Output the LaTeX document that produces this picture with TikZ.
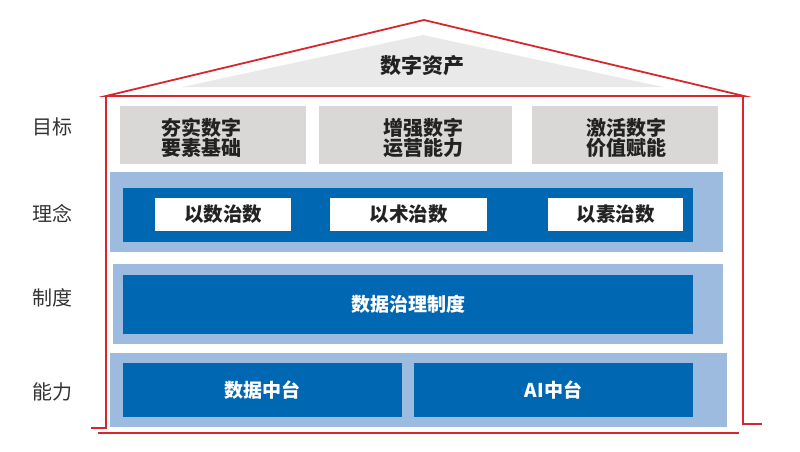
\documentclass[tikz,border=0pt]{standalone}
\usepackage{fontspec}
\setmainfont{Noto Sans CJK SC}
\begin{document}
\begin{tikzpicture}[x=1pt,y=-1pt,
  redline/.style={draw=roofred,line width=1.8pt},
  goalbox/.style={fill=goalgray,inner sep=0pt},
  goaltext/.style={inner sep=0pt,align=center,font=\bfseries\fontsize{20}{20.5}\selectfont,text=txtdark},
  lightband/.style={fill=lightblue,inner sep=0pt},
  darkband/.style={fill=darkblue,inner sep=0pt,text=white,font=\bfseries\fontsize{19}{22}\selectfont},
  whitebox/.style={fill=white,inner sep=0pt,text=txtdark,font=\bfseries\fontsize{19.5}{22}\selectfont},
  sidelabel/.style={text=txtlabel,font=\fontsize{20}{22}\selectfont}]
\definecolor{roofred}{HTML}{D8262E}
\definecolor{goalgray}{HTML}{D9D8D6}
\definecolor{roofgray}{HTML}{E9E9EA}
\definecolor{lightblue}{HTML}{9DBBDE}
\definecolor{darkblue}{HTML}{0067B2}
\definecolor{txtdark}{HTML}{222222}
\definecolor{txtlabel}{HTML}{333333}
\useasboundingbox (0,0) rectangle (800,451);
% roof
\fill[roofgray] (182,87) -- (423,35) -- (663,87) -- cycle;
\node[font=\bfseries\fontsize{21}{24}\selectfont,text=txtdark] (roof) at (422,66) {数字资产};
\coordinate (rl) at (106,96);
\coordinate (ra) at (424,20);
\coordinate (rr) at (744,96);
\draw[redline,line join=miter] (rl) -- (ra) -- (rr) -- cycle;
% walls
\coordinate (lb) at (106,428);
\coordinate (ls) at (91,428);
\coordinate (rb) at (743,424);
\coordinate (rs) at (762,424);
\coordinate (bl) at (98,433);
\coordinate (br) at (739,433);
\draw[redline] (rl) -- (lb) -- (ls);
\draw[redline] (743,96) -- (rb) -- (rs);
\draw[redline] (bl) -- (br);
% goals
\node[goalbox,minimum width=186pt,minimum height=58pt] (g1) at (213,135) {};
\node[goalbox,minimum width=193pt,minimum height=58pt] (g2) at (415.5,135) {};
\node[goalbox,minimum width=186pt,minimum height=58pt] (g3) at (625,135) {};
\node[goaltext] (t1) at (201,138) {夯实数字\\要素基础};
\node[goaltext] (t2) at (423,138) {增强数字\\运营能力};
\node[goaltext] (t3) at (626,138) {激活数字\\价值赋能};
% concept
\node[lightband,minimum width=613pt,minimum height=80pt] (c0) at (416.5,212) {};
\node[darkband,minimum width=570pt,minimum height=54pt] (c1) at (408,215) {};
\node[whitebox,minimum width=136pt,minimum height=33pt] (w1) at (223,214.5) {以数治数};
\node[whitebox,minimum width=157pt,minimum height=33pt] (w2) at (408.5,214.5) {以术治数};
\node[whitebox,minimum width=135pt,minimum height=33pt] (w3) at (615.5,214.5) {以素治数};
% system
\node[lightband,minimum width=610pt,minimum height=80pt] (s0) at (418,304) {};
\node[darkband,minimum width=570pt,minimum height=59pt] (s1) at (408,304.5) {数据治理制度};
% capability
\node[lightband,minimum width=617pt,minimum height=74pt] (p0) at (418.5,390) {};
\node[darkband,minimum width=279pt,minimum height=54pt] (p1) at (262.5,390) {数据中台};
\node[darkband,minimum width=279pt,minimum height=54pt] (p2) at (553.5,390) {AI中台};
% side labels
\node[sidelabel] (l1) at (52,127) {目标};
\node[sidelabel] (l2) at (52,213) {理念};
\node[sidelabel] (l3) at (52,298) {制度};
\node[sidelabel] (l4) at (52,392) {能力};
\end{tikzpicture}
\end{document}
